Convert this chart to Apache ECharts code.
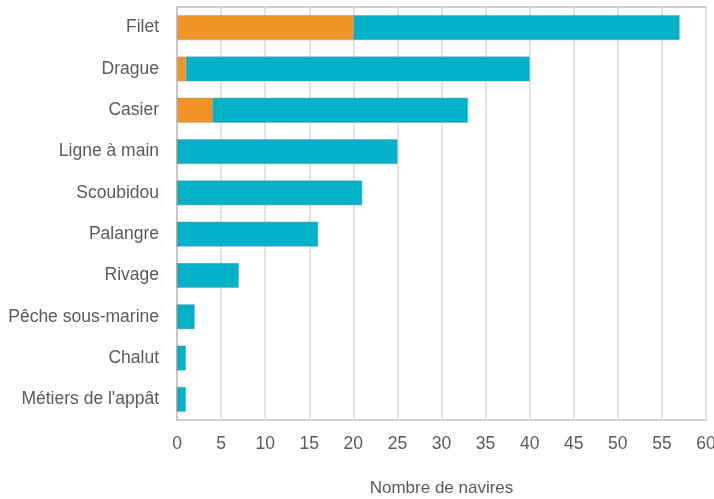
<!DOCTYPE html>
<html>
<head>
<meta charset="utf-8">
<script src="https://cdn.jsdelivr.net/npm/echarts@6/dist/echarts.min.js"></script>
<style>
  html, body { margin: 0; padding: 0; background: #fff; }
  #chart { width: 714px; height: 499px; }
</style>
</head>
<body>
<div id="chart"></div>
<script>
var categories = ["Filet", "Drague", "Casier", "Ligne à main", "Scoubidou", "Palangre", "Rivage", "Pêche sous-marine", "Chalut", "Métiers de l'appât"];
var orangeValues = [20, 1, 4, 0, 0, 0, 0, 0, 0, 0];
var tealValues = [37, 39, 29, 25, 21, 16, 7, 2, 1, 1];

var font = "'Liberation Sans Narrow', 'Arial Narrow', 'Liberation Sans', sans-serif";
var textColor = "#5a5a5a";

var chart = echarts.init(document.getElementById("chart"));
chart.setOption({
  animation: false,
  grid: {
    left: 177, right: 8, top: 7, bottom: 79,
    containLabel: false,
    outerBoundsMode: "none",
    show: true, borderColor: "#d0d0d0", borderWidth: 2
  },
  xAxis: {
    type: "value",
    min: 0,
    max: 60,
    interval: 5,
    name: "Nombre de navires",
    nameLocation: "middle",
    nameGap: 60,
    nameTextStyle: { fontFamily: font, fontSize: 17, color: textColor },
    axisLine: { show: false },
    axisTick: { show: false },
    axisLabel: { fontFamily: font, fontSize: 17.5, color: textColor, margin: 15 },
    splitLine: { lineStyle: { color: "#e3e3e3", width: 2 } }
  },
  yAxis: {
    type: "category",
    data: categories,
    inverse: true,
    axisLine: { show: true, lineStyle: { color: "#c8c8c8", width: 2 } },
    axisTick: { show: false },
    axisLabel: { fontFamily: font, fontSize: 17.5, color: textColor, margin: 18 }
  },
  series: [
    {
      name: "orange",
      type: "bar",
      stack: "total",
      data: orangeValues,
      barCategoryGap: "40%",
      itemStyle: { color: "#F19327", borderColor: "#b0a090", borderWidth: 0.5 }
    },
    {
      name: "teal",
      type: "bar",
      stack: "total",
      data: tealValues,
      barCategoryGap: "40%",
      itemStyle: { color: "#00B1C8", borderColor: "#7a9aa0", borderWidth: 0.5 }
    }
  ]
});
</script>
</body>
</html>
